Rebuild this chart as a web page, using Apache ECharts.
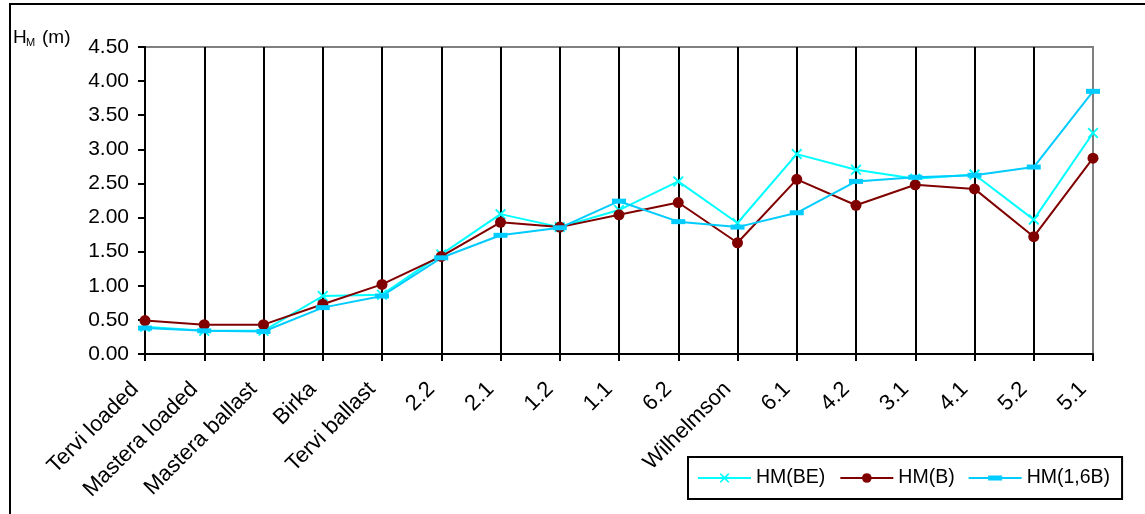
<!DOCTYPE html>
<html>
<head>
<meta charset="utf-8">
<script src="https://cdn.jsdelivr.net/npm/echarts@6/dist/echarts.min.js"></script>
<style>
  html, body { margin: 0; padding: 0; background: #fff; }
  #chart { width: 1145px; height: 514px; }
</style>
</head>
<body>
<div id="chart"></div>
<script>
// Ship / test case labels along the x axis
const categories = ['Tervi loaded', 'Mastera loaded', 'Mastera ballast', 'Birka', 'Tervi ballast',
  '2.2', '2.1', '1.2', '1.1', '6.2', 'Wilhelmson', '6.1', '4.2', '3.1', '4.1', '5.2', '5.1'];

// HM values in metres for each estimate
const hmBE  = [0.40, 0.34, 0.34, 0.85, 0.87, 1.46, 2.05, 1.86, 2.11, 2.53, 1.92, 2.93, 2.70, 2.57, 2.63, 1.97, 3.24];
const hmB   = [0.49, 0.43, 0.43, 0.73, 1.02, 1.43, 1.93, 1.86, 2.04, 2.22, 1.63, 2.56, 2.18, 2.48, 2.42, 1.72, 2.87];
const hm16B = [0.38, 0.34, 0.33, 0.68, 0.85, 1.41, 1.74, 1.85, 2.24, 1.94, 1.86, 2.07, 2.53, 2.59, 2.62, 2.74, 3.85];

const seriesNames = ['HM(BE)', 'HM(B)', 'HM(1,6B)'];

const FONT = '"Liberation Sans", Arial, sans-serif';
const X_MARK = 'path://M0,1.2L1.2,0L5,3.8L8.8,0L10,1.2L6.2,5L10,8.8L8.8,10L5,6.2L1.2,10L0,8.8L3.8,5Z';
// legend key for the dash marker: line across the key plus a flat bar in the middle,
// with two hair-thin corner points that pin the key's 53x12 frame
const DASH_KEY = 'path://M0,0L0.01,0L0,0.01Z M0,5H53V7H0Z M19.5,3.5H33.5V8.5H19.5Z M53,12L52.99,12L53,11.99Z';

const chart = echarts.init(document.getElementById('chart'), null, { renderer: 'canvas' });

chart.setOption({
  animation: false,
  backgroundColor: '#fff',
  textStyle: { fontFamily: FONT, color: '#000' },
  grid: {
    left: 145, right: 52, top: 47, bottom: 160,
    show: true, borderColor: '#808080', borderWidth: 2, backgroundColor: 'transparent'
  },
  graphic: [
    { type: 'rect', shape: { x: 10, y: 4, width: 1160, height: 540 },
      style: { fill: 'none', stroke: '#000', lineWidth: 2 }, silent: true },
    { type: 'text', left: 13, top: 28, style: { text: 'H', font: '19px ' + FONT, fill: '#000' } },
    { type: 'text', left: 26, top: 37, style: { text: 'M', font: '11px ' + FONT, fill: '#000' } },
    { type: 'text', left: 42, top: 28, style: { text: '(m)', font: '19px ' + FONT, fill: '#000' } }
  ],
  legend: {
    left: 688, top: 457,
    data: [seriesNames[0], seriesNames[1], { name: seriesNames[2], icon: DASH_KEY }],
    itemWidth: 53, itemHeight: 12, itemGap: 14,
    padding: [11, 12, 11, 9],
    borderColor: '#000', borderWidth: 2,
    textStyle: { fontSize: 19.5, fontFamily: FONT, color: '#000' }
  },
  xAxis: {
    type: 'category',
    data: categories,
    boundaryGap: false,
    axisLine: { lineStyle: { color: '#000', width: 2 } },
    axisTick: { show: true, inside: false, length: 7, lineStyle: { color: '#000', width: 2 } },
    axisLabel: {
      rotate: 45, interval: 0, margin: 22, fontSize: 22, color: '#000', fontFamily: FONT,
      padding: [0, 14, 0, 0]
    },
    splitLine: {
      show: true,
      interval: function (i) { return i < categories.length - 1; },
      lineStyle: { color: '#000', width: 2 }
    }
  },
  yAxis: {
    type: 'value',
    min: 0, max: 4.5, interval: 0.5,
    axisLine: { show: true, lineStyle: { color: '#000', width: 2 } },
    axisTick: { show: true, length: 7, lineStyle: { color: '#000', width: 2 } },
    axisLabel: {
      margin: 16, fontSize: 21, color: '#000', fontFamily: FONT,
      formatter: function (v) { return v.toFixed(2); }
    },
    splitLine: { show: false }
  },
  series: [
    {
      name: seriesNames[0], type: 'line', data: hmBE,
      symbol: X_MARK, symbolSize: 11,
      lineStyle: { color: '#00FFFF', width: 2 },
      itemStyle: { color: '#00FFFF' }
    },
    {
      name: seriesNames[1], type: 'line', data: hmB,
      symbol: 'circle', symbolSize: 11,
      lineStyle: { color: '#800000', width: 2 },
      itemStyle: { color: '#800000' }
    },
    {
      name: seriesNames[2], type: 'line', data: hm16B,
      symbol: 'rect', symbolSize: [14, 5],
      lineStyle: { color: '#00CCFF', width: 2 },
      itemStyle: { color: '#00CCFF' }
    }
  ]
});
</script>
</body>
</html>
